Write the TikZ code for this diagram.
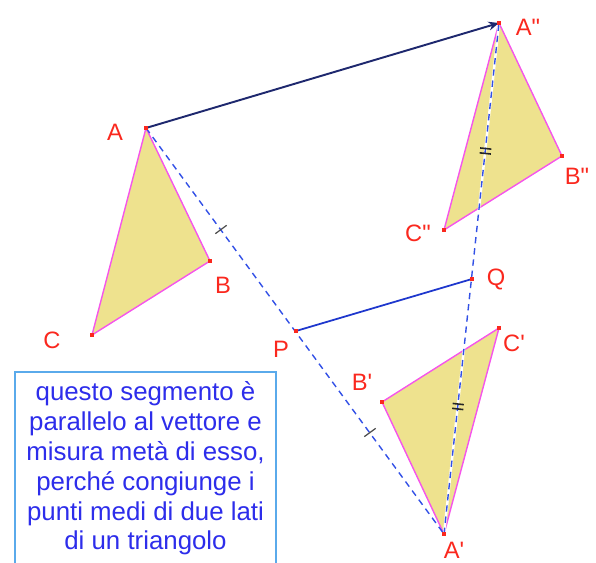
\documentclass[tikz,border=0pt]{standalone}
\usepackage{fontspec}
\setmainfont{Liberation Sans}
\usetikzlibrary{arrows.meta,calc}

\definecolor{trifill}{RGB}{238,226,142}
\definecolor{edgepink}{RGB}{245,85,235}
\definecolor{ptred}{RGB}{250,40,30}
\definecolor{dashblue}{RGB}{50,80,230}
\definecolor{vecnavy}{RGB}{30,40,110}
\definecolor{segblue}{RGB}{30,55,205}
\definecolor{boxblue}{RGB}{90,170,235}
\definecolor{noteblue}{RGB}{45,45,235}

\begin{document}
\begin{tikzpicture}[
    x=0.02cm, y=-0.02cm,
    >=Stealth,
    % triangle and point styles
    tri/.style={draw=edgepink, fill=trifill, line width=0.8pt, line join=round},
    pt/.style={rectangle, fill=ptred, minimum size=2.4pt, inner sep=0},
    lbl/.style={text=ptred, font=\fontsize{13.5}{16}\selectfont, inner sep=0},
    % line styles
    dashline/.style={draw=dashblue, line width=0.8pt, dash pattern=on 3.6pt off 2.8pt},
    vec/.style={-{Stealth[length=6pt,width=5pt]}, draw=vecnavy, line width=1.1pt},
    midseg/.style={draw=segblue, line width=1pt},
    tickone/.style={draw=black!70, line width=0.7pt},
    ticktwo/.style={draw=black!85, line width=0.9pt},
    note/.style={draw=boxblue, line width=1.2pt, fill=white, text=noteblue, align=center,
        font=\fontsize{14.7}{17}\selectfont, minimum width=149pt, inner xsep=4pt, inner ysep=5.4pt}
  ]
  \useasboundingbox (0,0) rectangle (596,563);

  % Vertices
  \coordinate (A) at (146,128);
  \coordinate (B) at (210,261);
  \coordinate (C) at (92,335);
  \coordinate (A2) at (499,23);
  \coordinate (B2) at (562,156);
  \coordinate (C2) at (444,230);
  \coordinate (A1) at (444,534);
  \coordinate (B1) at (382,402);
  \coordinate (C1) at (499,328);
  \coordinate (P) at (296,331);
  \coordinate (Q) at (472,279);

  % Triangles
  \draw[tri] (A) -- (B) -- (C) -- cycle;
  \draw[tri] (A2) -- (B2) -- (C2) -- cycle;
  \draw[tri] (A1) -- (B1) -- (C1) -- cycle;

  % Construction lines
  \draw[dashline] (A) -- (A1);
  \draw[white, line width=1.4pt] (A1) -- (A2);
  \draw[dashline] (A1) -- (A2);
  \draw[vec] (A) -- (A2);
  \draw[midseg] (P) -- (Q);

  % Equal-length marks
  \foreach \s/\e in {A/P, P/A1} {
    \coordinate (m) at ($(\s)!0.5!(\e)$);
    \draw[tickone] ($(m)!4pt!90:(\e)$) -- ($(m)!4pt!-90:(\e)$);
  }
  \foreach \s/\e in {A1/Q, Q/A2}
    \foreach \d in {-1.4pt,1.4pt} {
      \coordinate (m) at ($(\s)!0.5!(\e)$);
      \coordinate (t) at ($(m)!\d!(\e)$);
      \draw[ticktwo] ($(t)!3.2pt!90:(\e)$) -- ($(t)!3.2pt!-90:(\e)$);
    }

  % Points
  \foreach \p in {A,B,C,A1,B1,C1,A2,B2,C2,P,Q}
    \node[pt] (pt\p) at (\p) {};

  % Labels
  \node[lbl] (labA) at (115,132) {A};
  \node[lbl] (labB) at (223,285) {B};
  \node[lbl] (labC) at (52,340) {C};
  \node[lbl] (labA2) at (528,27) {A\textquotedbl};
  \node[lbl] (labB2) at (577,176) {B\textquotedbl};
  \node[lbl] (labC2) at (418,233) {C\textquotedbl};
  \node[lbl] (labA1) at (454,550) {A\textquotesingle};
  \node[lbl] (labB1) at (362,382) {B\textquotesingle};
  \node[lbl] (labC1) at (514,343) {C\textquotesingle};
  \node[lbl] (labP) at (281,349) {P};
  \node[lbl] (labQ) at (496,279) {Q};

  % Comment box
  \node[note, anchor=north] (note) at (145.5,371)
    {questo segmento è\\parallelo al vettore e\\misura metà di esso,\\perché congiunge i\\punti medi di due lati\\di un triangolo};
\end{tikzpicture}
\end{document}
